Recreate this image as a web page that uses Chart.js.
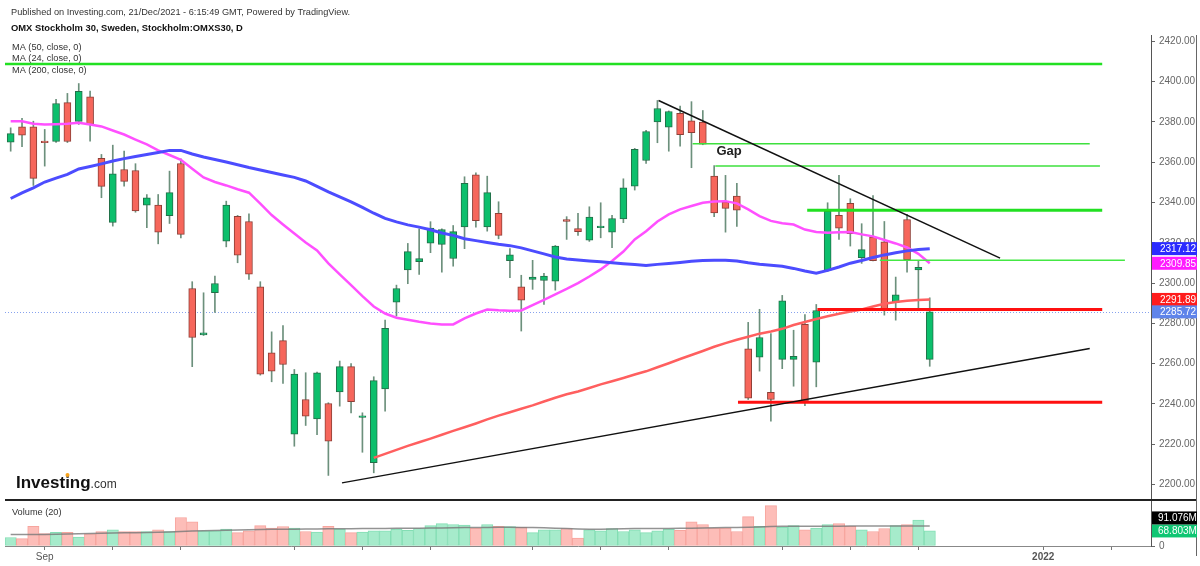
<!DOCTYPE html>
<html>
<head>
<meta charset="utf-8">
<title>OMX Stockholm 30</title>
<script src="https://cdn.jsdelivr.net/npm/chart.js@4.4.1/dist/chart.umd.min.js"></script>
<style>
  html, body { margin: 0; padding: 0; background: #fff; }
  #wrap { position: relative; width: 1200px; height: 566px; }
</style>
</head>
<body>
<div id="wrap"><canvas id="omxChart" width="1200" height="566"></canvas></div>
<script>
// daily sessions shown in the chart
var dates = [
  "2021-08-27", "2021-08-30", "2021-08-31",
  "2021-09-01", "2021-09-02", "2021-09-03", "2021-09-06", "2021-09-07", "2021-09-08", "2021-09-09", "2021-09-10",
  "2021-09-13", "2021-09-14", "2021-09-15", "2021-09-16", "2021-09-17", "2021-09-20", "2021-09-21", "2021-09-22",
  "2021-09-23", "2021-09-24", "2021-09-27", "2021-09-28", "2021-09-29", "2021-09-30",
  "2021-10-01", "2021-10-04", "2021-10-05", "2021-10-06", "2021-10-07", "2021-10-08", "2021-10-11", "2021-10-12",
  "2021-10-13", "2021-10-14", "2021-10-15", "2021-10-18", "2021-10-19", "2021-10-20", "2021-10-21", "2021-10-22",
  "2021-10-25", "2021-10-26", "2021-10-27", "2021-10-28", "2021-10-29",
  "2021-11-01", "2021-11-02", "2021-11-03", "2021-11-04", "2021-11-05", "2021-11-08", "2021-11-09", "2021-11-10",
  "2021-11-11", "2021-11-12", "2021-11-15", "2021-11-16", "2021-11-17", "2021-11-18", "2021-11-19", "2021-11-22",
  "2021-11-23", "2021-11-24", "2021-11-25", "2021-11-26", "2021-11-29", "2021-11-30",
  "2021-12-01", "2021-12-02", "2021-12-03", "2021-12-06", "2021-12-07", "2021-12-08", "2021-12-09", "2021-12-10",
  "2021-12-13", "2021-12-14", "2021-12-15", "2021-12-16", "2021-12-17", "2021-12-20"
];
// empty space on the right of the chart
var futureDates = [
  "2021-12-21", "2021-12-22", "2021-12-23", "2021-12-24", "2021-12-27", "2021-12-28", "2021-12-29", "2021-12-30",
  "2021-12-31", "2022-01-03", "2022-01-04", "2022-01-05", "2022-01-06", "2022-01-07", "2022-01-10", "2022-01-11",
  "2022-01-12", "2022-01-13", "2022-01-14"
];

var opens = [2370.0, 2377.6, 2377.6, 2370.5, 2370.3, 2389.6, 2380.3, 2392.5, 2361.9, 2330.1,
  2356.4, 2355.9, 2338.7, 2338.7, 2333.5, 2359.4, 2297.3, 2274.3, 2295.2, 2320.8,
  2333.1, 2330.6, 2298.2, 2265.4, 2271.4, 2225.0, 2242.2, 2232.6, 2240.2, 2246.0,
  2258.5, 2233.3, 2210.8, 2247.5, 2290.5, 2306.6, 2310.6, 2319.8, 2319.2, 2312.2,
  2327.9, 2353.8, 2327.9, 2334.7, 2311.1, 2298.2, 2301.8, 2301.3, 2301.0, 2331.6,
  2327.1, 2321.3, 2327.5, 2325.3, 2331.9, 2348.1, 2360.9, 2380.1, 2377.4, 2384.3,
  2380.6, 2379.9, 2353.1, 2340.4, 2343.2, 2267.4, 2263.2, 2245.8, 2262.1, 2262.1,
  2279.5, 2260.7, 2306.3, 2333.6, 2339.6, 2312.6, 2322.8, 2320.5, 2290.3, 2331.6,
  2306.6, 2262.1];
var highs = [2377.1, 2381.8, 2380.4, 2376.3, 2391.2, 2394.2, 2399.1, 2395.3, 2363.9, 2368.5,
  2365.5, 2359.3, 2344.0, 2344.0, 2355.6, 2361.7, 2300.7, 2295.2, 2303.5, 2340.7,
  2333.6, 2334.4, 2300.7, 2275.8, 2278.9, 2257.1, 2255.5, 2255.8, 2240.6, 2261.3,
  2260.1, 2235.6, 2253.5, 2281.6, 2299.0, 2319.7, 2327.0, 2330.5, 2327.0, 2328.6,
  2352.8, 2354.8, 2353.1, 2340.4, 2317.1, 2303.9, 2311.3, 2304.8, 2318.7, 2333.0,
  2334.6, 2337.9, 2339.9, 2333.6, 2351.8, 2366.9, 2375.9, 2390.7, 2385.5, 2387.9,
  2390.1, 2385.7, 2358.4, 2353.5, 2349.5, 2280.5, 2287.0, 2274.9, 2293.9, 2276.6,
  2284.4, 2289.4, 2339.9, 2353.5, 2341.9, 2329.5, 2343.5, 2330.6, 2303.0, 2334.1,
  2311.3, 2292.7];
var lows = [2365.5, 2367.7, 2348.5, 2358.1, 2369.8, 2369.8, 2378.8, 2370.5, 2342.4, 2328.3,
  2348.1, 2335.2, 2327.5, 2319.5, 2329.6, 2322.5, 2258.5, 2274.0, 2285.5, 2318.0,
  2310.1, 2301.8, 2254.3, 2251.0, 2250.2, 2219.0, 2229.3, 2224.7, 2204.5, 2238.9,
  2235.6, 2216.0, 2205.8, 2236.4, 2283.6, 2299.7, 2304.3, 2315.1, 2305.4, 2308.4,
  2317.1, 2327.8, 2325.8, 2322.0, 2302.7, 2276.2, 2296.9, 2289.4, 2296.5, 2321.7,
  2323.7, 2320.7, 2322.5, 2317.6, 2330.0, 2346.2, 2359.4, 2369.7, 2365.5, 2368.0,
  2357.3, 2368.7, 2333.0, 2325.3, 2328.1, 2242.2, 2256.3, 2231.5, 2257.5, 2248.8,
  2239.2, 2248.5, 2305.8, 2321.7, 2318.4, 2309.8, 2311.0, 2284.1, 2281.6, 2305.4,
  2287.3, 2258.7];
var closes = [2374.2, 2373.5, 2352.0, 2369.7, 2389.2, 2370.3, 2395.2, 2378.8, 2348.0, 2354.3,
  2350.5, 2335.9, 2342.4, 2325.3, 2344.9, 2324.2, 2273.0, 2275.3, 2299.8, 2338.7,
  2313.9, 2304.4, 2254.8, 2256.3, 2259.6, 2254.8, 2233.9, 2255.5, 2221.5, 2258.5,
  2241.1, 2234.1, 2251.6, 2277.5, 2297.3, 2315.6, 2312.2, 2327.3, 2326.6, 2325.6,
  2349.6, 2331.0, 2344.9, 2323.7, 2314.1, 2291.5, 2303.0, 2303.5, 2318.4, 2330.6,
  2325.6, 2332.8, 2328.3, 2332.1, 2347.3, 2366.4, 2375.3, 2386.7, 2385.2, 2373.7,
  2374.7, 2369.0, 2334.9, 2337.1, 2336.2, 2242.9, 2273.0, 2242.2, 2291.2, 2263.6,
  2241.4, 2286.4, 2335.6, 2327.3, 2324.5, 2316.6, 2311.2, 2287.3, 2294.2, 2311.7,
  2307.8, 2285.72];

// volume in millions
var volumes = [39, 34, 90, 57, 62, 62, 41, 56, 66, 74,
  66, 66, 66, 74, 66, 130, 110, 69, 69, 77,
  61, 69, 93, 82, 89, 82, 66, 64, 90, 77,
  61, 64, 69, 69, 77, 72, 80, 93, 102, 98,
  95, 82, 98, 90, 89, 85, 61, 74, 74, 80,
  36, 74, 69, 80, 66, 74, 61, 69, 77, 72,
  110, 98, 82, 82, 66, 134, 90, 184, 85, 93,
  74, 82, 98, 102, 90, 74, 66, 80, 93, 98,
  118, 68.803];
var volMa = [52, 52, 53, 53, 54, 55, 56, 57, 58, 59,
  60, 61, 62, 63, 64, 66, 68, 70, 71, 72,
  73, 74, 75, 76, 77, 77, 78, 78, 79, 79,
  79, 80, 80, 80, 81, 81, 81, 82, 82, 83,
  84, 85, 85, 86, 86, 85, 84, 83, 81, 80,
  78, 77, 77, 78, 79, 80, 80, 80, 80, 81,
  81, 82, 83, 84, 85, 86, 87, 89, 90, 90,
  90, 90, 90, 90, 91, 91, 91, 91, 91, 91,
  91, 91.076];

var ma50 = [2342.0, 2344.8, 2347.3, 2350.2, 2352.1, 2354.0, 2356.7, 2357.9, 2359.2, 2360.6,
  2361.8, 2362.9, 2363.9, 2364.9, 2365.9, 2365.9, 2364.1, 2362.6, 2361.4, 2360.1,
  2358.8, 2357.4, 2356.2, 2354.9, 2353.7, 2352.5, 2350.7, 2348.0, 2345.3, 2342.8,
  2340.3, 2337.6, 2334.7, 2332.1, 2330.4, 2328.9, 2327.8, 2326.5, 2324.9, 2323.7,
  2322.0, 2321.1, 2320.2, 2319.3, 2318.6, 2317.5, 2316.0, 2314.5, 2313.0, 2312.0,
  2311.5, 2311.0, 2310.6, 2310.1, 2309.6, 2309.2, 2308.8, 2309.3, 2309.7, 2310.2,
  2310.8, 2311.2, 2311.3, 2311.4, 2311.0, 2310.1, 2309.4, 2308.9, 2308.4, 2307.3,
  2306.0, 2304.9, 2306.3, 2308.0, 2309.9, 2311.2, 2312.7, 2314.0, 2315.1, 2316.0,
  2316.7, 2317.12];
var ma24 = [2380.4, 2380.4, 2379.1, 2378.8, 2378.9, 2379.1, 2379.6, 2378.8, 2377.8, 2375.8,
  2373.8, 2371.3, 2368.9, 2365.9, 2363.6, 2361.2, 2356.8, 2352.5, 2350.2, 2348.5,
  2346.6, 2344.9, 2339.5, 2333.8, 2329.1, 2324.6, 2320.2, 2316.2, 2309.8, 2304.3,
  2299.0, 2293.5, 2288.4, 2284.9, 2282.8, 2281.8, 2280.8, 2280.0, 2279.5, 2279.5,
  2282.5, 2284.9, 2286.9, 2286.5, 2286.3, 2286.4, 2289.1, 2291.7, 2294.4, 2297.1,
  2300.0, 2303.3, 2306.8, 2311.0, 2315.7, 2321.7, 2325.8, 2330.6, 2334.1, 2336.6,
  2338.3, 2339.9, 2340.5, 2340.7, 2339.6, 2336.6, 2333.3, 2330.9, 2329.7, 2329.1,
  2326.6, 2325.4, 2325.0, 2325.2, 2325.4, 2324.2, 2323.2, 2321.4, 2319.7, 2317.7,
  2314.5, 2309.85];
// MA 200 only visible from mid October
var ma200 = [null, null, null, null, null, null, null, null, null, null,
  null, null, null, null, null, null, null, null, null, null,
  null, null, null, null, null, null, null, null, null, null,
  null, null, 2213.2, 2215.2, 2217.2, 2219.2, 2221.0, 2222.8, 2224.7, 2226.6,
  2228.4, 2230.3, 2232.3, 2234.2, 2235.9, 2237.6, 2239.3, 2241.2, 2243.1, 2244.8,
  2246.2, 2247.9, 2249.7, 2251.3, 2252.9, 2254.6, 2256.2, 2258.2, 2260.2, 2262.3,
  2264.3, 2266.3, 2268.4, 2270.2, 2271.9, 2273.4, 2274.9, 2276.0, 2277.3, 2279.2,
  2280.7, 2282.2, 2283.5, 2284.8, 2285.9, 2286.9, 2288.4, 2289.7, 2290.6, 2291.2,
  2291.6, 2291.89];

var priceTicks = [2200, 2220, 2240, 2260, 2280, 2300, 2320, 2340, 2360, 2380, 2400, 2420];
var tickDates = ["2021-09-01", "2021-09-09", "2021-09-17", "2021-10-01", "2021-10-11", "2021-10-19",
  "2021-11-01", "2021-11-09", "2021-11-17", "2021-12-01", "2021-12-09", "2021-12-17", "2022-01-03", "2022-01-11"];
var tickText = { "2021-09-01": "Sep", "2022-01-03": "2022" };

// hand drawn levels: price, from slot, to slot
var levelPrices = [2408.8, 2369.2, 2358.1, 2336.2, 2311.3, 2286.9, 2240.9];
var levelFrom = [-0.5, 60.1, 62.1, 70.2, 76.6, 71.1, 64.1];
var levelTo = [96.2, 95.1, 96.0, 96.2, 98.2, 96.2, 96.2];
// trend lines: [slot, price] pairs
var trendStart = [[57.1, 2390.7], [29.2, 2200.8]];
var trendEnd = [[87.2, 2312.4], [95.1, 2267.5]];
var gapNote = [62.2, 2365.4];

var levelStyle = [
  { color: "#22e022", width: 2.5 },
  { color: "#3ee03e", width: 1.5 },
  { color: "#3ee03e", width: 1.5 },
  { color: "#22e022", width: 3 },
  { color: "#44e844", width: 1.5 },
  { color: "#ff1010", width: 3 },
  { color: "#ff1010", width: 3 }
];

var upFill = "#0cbf6c", upLine = "#226f48", downFill = "#f6665b", downLine = "#8e3f37";
var wickColor = "#6c907c";
var fontFam = '"Liberation Sans", Arial, sans-serif';

var allDates = dates.concat(futureDates);
var last = closes.length - 1;

function isUp(i) {
  return closes[i] >= opens[i];
}

var bodies = opens.map(function (o, i) { return [o, closes[i]]; });
var wicks = lows.map(function (l, i) { return [l, highs[i]]; });

var overlay = {
  id: "overlay",
  beforeDatasetsDraw: function (chart) {
    // dotted line at last price
    var c = chart.ctx, a = chart.chartArea;
    var py = Math.round(chart.scales.y.getPixelForValue(closes[last])) + 0.5;
    c.save();
    c.strokeStyle = "#87a2ee";
    c.lineWidth = 1;
    c.setLineDash([1, 2]);
    c.beginPath();
    c.moveTo(a.left, py);
    c.lineTo(a.right, py);
    c.stroke();
    c.restore();
  },
  afterDatasetsDraw: function (chart) {
    var c = chart.ctx, xs = chart.scales.x, ys = chart.scales.y;
    c.save();
    levelPrices.forEach(function (p, k) {
      var py = ys.getPixelForValue(p);
      c.strokeStyle = levelStyle[k].color;
      c.lineWidth = levelStyle[k].width;
      c.beginPath();
      c.moveTo(xs.getPixelForValue(levelFrom[k]), py);
      c.lineTo(xs.getPixelForValue(levelTo[k]), py);
      c.stroke();
    });
    c.strokeStyle = "#111";
    c.lineWidth = 1.5;
    trendStart.forEach(function (s, k) {
      var e = trendEnd[k];
      c.beginPath();
      c.moveTo(xs.getPixelForValue(s[0]), ys.getPixelForValue(s[1]));
      c.lineTo(xs.getPixelForValue(e[0]), ys.getPixelForValue(e[1]));
      c.stroke();
    });
    c.fillStyle = "#222";
    c.font = "bold 13px " + fontFam;
    c.textBaseline = "middle";
    c.fillText("Gap", xs.getPixelForValue(gapNote[0]), ys.getPixelForValue(gapNote[1]));
    c.restore();
  },
  afterDraw: function (chart) {
    var c = chart.ctx, a = chart.chartArea, ys = chart.scales.y, vs = chart.scales.yv;
    c.save();

    // pane separator and right frame
    c.strokeStyle = "#222";
    c.lineWidth = 2;
    c.beginPath();
    c.moveTo(a.left, Math.round(vs.top));
    c.lineTo(1197, Math.round(vs.top));
    c.stroke();
    c.strokeStyle = "#666";
    c.lineWidth = 1;
    c.beginPath();
    c.moveTo(1196.5, 35);
    c.lineTo(1196.5, 556);
    c.stroke();

    // last value tags on the price scale
    var tags = [[ma50[last], "#2b2bff"], [ma24[last], "#ff1cff"], [ma200[last], "#ff1c1c"], [closes[last], "#5f84ea"]];
    c.font = "10px " + fontFam;
    c.textBaseline = "middle";
    tags.forEach(function (t) {
      var py = ys.getPixelForValue(t[0]);
      c.fillStyle = t[1];
      c.fillRect(1152, py - 6.5, 45, 13);
      c.fillStyle = "#fff";
      c.fillText(t[0].toFixed(2), 1160, py + 0.5);
    });

    // volume tags
    var vy = vs.getPixelForValue(volumes[last]);
    var my = Math.min(vs.getPixelForValue(volMa[last]), vy - 13);
    c.fillStyle = "#0fc673";
    c.fillRect(1152, vy - 6.5, 45, 13);
    c.fillStyle = "#000";
    c.fillRect(1152, my - 6.5, 45, 13);
    c.fillStyle = "#fff";
    c.fillText(volumes[last].toFixed(3) + "M", 1158, vy + 0.5);
    c.fillText(volMa[last].toFixed(3) + "M", 1158, my + 0.5);

    // header
    c.fillStyle = "#333";
    c.font = "9.2px " + fontFam;
    c.fillText("Published on Investing.com, 21/Dec/2021 - 6:15:49 GMT, Powered by TradingView.", 11, 12);
    c.fillStyle = "#111";
    c.font = "bold 9.4px " + fontFam;
    c.fillText("OMX Stockholm 30, Sweden, Stockholm:OMXS30, D", 11, 28);
    c.fillStyle = "#333";
    c.font = "9.2px " + fontFam;
    c.fillText("MA (50, close, 0)", 12, 47);
    c.fillText("MA (24, close, 0)", 12, 58.5);
    c.fillText("MA (200, close, 0)", 12, 70.5);
    c.fillText("Volume (20)", 12, 512);

    // logo
    c.textBaseline = "alphabetic";
    c.fillStyle = "#111";
    c.font = "bold 17px " + fontFam;
    c.fillText("Investing", 16, 488);
    var w = c.measureText("Investing").width;
    var dotX = 16 + c.measureText("Invest").width + c.measureText("i").width / 2;
    c.fillStyle = "#333";
    c.font = "12px " + fontFam;
    c.fillText(".com", 16 + w, 488);
    c.fillStyle = "#f7a21b";
    c.beginPath();
    c.arc(dotX, 475, 2, 0, Math.PI * 2);
    c.fill();
    c.restore();
  }
};

var ctx = document.getElementById("omxChart").getContext("2d");

var omxChart = new Chart(ctx, {
  type: "bar",
  data: {
    labels: allDates,
    datasets: [
      { type: "line", label: "MA 50", data: ma50, yAxisID: "y", borderColor: "#4c4cff", borderWidth: 3, pointRadius: 0 },
      { type: "line", label: "MA 24", data: ma24, yAxisID: "y", borderColor: "#ff50ff", borderWidth: 2.5, pointRadius: 0 },
      { type: "line", label: "MA 200", data: ma200, yAxisID: "y", borderColor: "#ff5f5f", borderWidth: 2.5, pointRadius: 0 },
      {
        label: "Body", data: bodies, yAxisID: "y", grouped: false, barThickness: 7, borderWidth: 1, borderSkipped: false,
        backgroundColor: function (c) { return isUp(c.dataIndex) ? upFill : downFill; },
        borderColor: function (c) { return isUp(c.dataIndex) ? upLine : downLine; }
      },
      { label: "Wick", data: wicks, yAxisID: "y", grouped: false, barThickness: 1, backgroundColor: wickColor },
      { type: "line", label: "Volume MA", data: volMa, yAxisID: "yv", borderColor: "rgba(120,120,120,0.8)", borderWidth: 1.5, pointRadius: 0 },
      {
        label: "Volume", data: volumes, yAxisID: "yv", grouped: false, barPercentage: 1, categoryPercentage: 1,
        borderWidth: 1, borderSkipped: false,
        backgroundColor: function (c) { return isUp(c.dataIndex) ? "#a6ebcb" : "#fdbdb8"; },
        borderColor: function (c) { return isUp(c.dataIndex) ? "#83deb4" : "#f7a59e"; }
      }
    ]
  },
  options: {
    responsive: false,
    animation: false,
    layout: { padding: { top: 35, left: 5, right: 0, bottom: 0 } },
    plugins: { legend: { display: false }, tooltip: { enabled: false } },
    scales: {
      x: {
        offset: true,
        grid: { display: true, drawOnChartArea: false, offset: false, tickLength: 4, tickColor: "#777" },
        border: { color: "#888" },
        ticks: {
          autoSkip: false, maxRotation: 0, padding: 1, color: "#555",
          font: function (c) {
            var d = c.tick ? allDates[c.tick.value] : "";
            return { size: 10, family: fontFam, weight: d === "2022-01-03" ? "bold" : "normal" };
          },
          callback: function (v) { return tickText[allDates[v]] || ""; }
        },
        afterBuildTicks: function (axis) {
          axis.ticks = tickDates.map(function (d) { return { value: allDates.indexOf(d) }; });
        },
        afterFit: function (axis) { axis.height = 20; }
      },
      y: {
        position: "right", stack: "pane", stackWeight: 465,
        min: 2192.3, max: 2423.2,
        grid: { drawOnChartArea: false, tickLength: 4, tickColor: "#666" },
        border: { color: "#555" },
        ticks: {
          color: "#666", padding: 4, font: { size: 10, family: fontFam },
          callback: function (v) { return v.toFixed(2); }
        },
        afterBuildTicks: function (axis) {
          axis.ticks = priceTicks.map(function (v) { return { value: v }; });
        },
        afterFit: function (axis) { axis.width = 49; }
      },
      yv: {
        position: "right", stack: "pane", stackWeight: 46,
        min: 0, max: 210,
        grid: { drawOnChartArea: false, tickLength: 4, tickColor: "#666" },
        border: { color: "#555" },
        ticks: { color: "#666", padding: 4, font: { size: 10, family: fontFam } },
        afterBuildTicks: function (axis) { axis.ticks = [{ value: 0 }]; },
        afterFit: function (axis) { axis.width = 49; }
      }
    }
  },
  plugins: [overlay]
});
</script>
</body>
</html>
